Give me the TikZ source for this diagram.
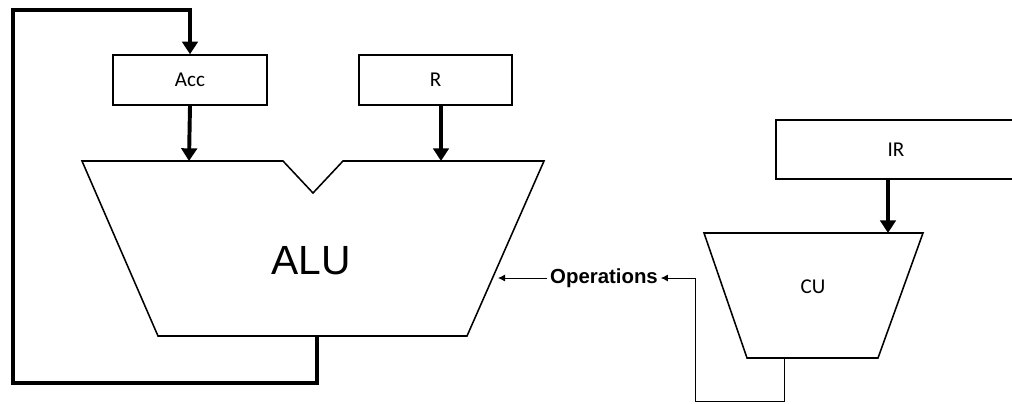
\documentclass[tikz,border=0pt]{standalone}
\usepackage{fontspec}
\setmainfont{Carlito}
\newfontfamily\arialfont{Liberation Sans}
\usetikzlibrary{arrows.meta}

\tikzset{
  reg/.style={draw,line width=1pt,minimum height=1.25cm,inner sep=0pt},
  unit/.style={draw,line width=1.1pt,line join=miter},
  bus/.style={line width=2.8pt,-{Triangle[width=11pt,length=9pt]}},
  sig/.style={line width=0.6pt,-{Latex[width=5pt,length=5pt]}}
}

\begin{document}
\begin{tikzpicture}[x=0.025cm,y=-0.025cm,font=\fontsize{15}{17}\selectfont]
\useasboundingbox (0,0) rectangle (1012,403);
\clip (0,0) rectangle (1012,403);
% registers
\node[reg,minimum width=3.85cm] (acc) at (190,80) {Acc};
\node[reg,minimum width=3.83cm] (R) at (435.5,80) {R};
\node[reg,minimum width=6cm,minimum height=1.475cm] (ir) at (896,149.5) {IR};
% ALU with notch
\draw[unit] (82,161) -- (283,161) -- (313,193) -- (343,161) -- (544,161) -- (467,336) -- (158,336) -- cycle;
\node[font=\arialfont\fontsize{29}{32}\selectfont] (alu) at (311,261) {ALU};
\coordinate (aluinA) at (189,161);
\coordinate (aluinB) at (441,161);
\coordinate (aluout) at (317,336);
\coordinate (aluop) at (498,278);
\coordinate (looptop) at (13,10);
% CU
\draw[unit] (704,233) -- (923,233) -- (878,358) -- (747,358) -- cycle;
\node (cu) at (813,287) {CU};
\coordinate (cuin) at (888,233);
\coordinate (cuout) at (784,358);
\node[font=\arialfont\bfseries\fontsize{14.5}{16}\selectfont,inner sep=2pt] (ops) at (604,278) {Operations};
% buses
\draw[bus] (acc.south) -- (aluinA);
\draw[bus] (aluinB|-R.south) -- (aluinB);
\draw[bus] (cuin|-ir.south) -- (cuin);
\draw[bus] (aluout) |- (13,383) -- (looptop) -| (acc.north);
% control
\draw[sig] (ops.west) -- (aluop);
\draw[sig] (cuout) -- (784,401) -| (695,278) -- (ops.east);
\end{tikzpicture}
\end{document}
